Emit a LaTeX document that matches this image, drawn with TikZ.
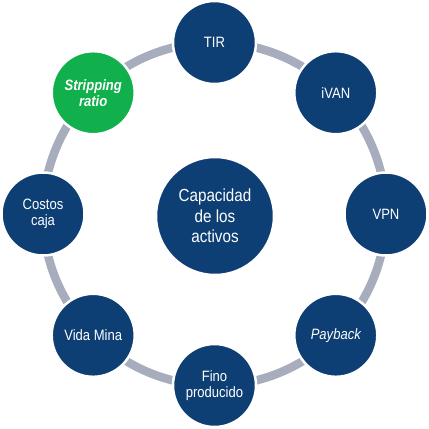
\documentclass[tikz,border=0pt]{standalone}
\usepackage{fontspec}
\setmainfont[FakeStretch=0.87]{Liberation Sans}
\definecolor{navy}{HTML}{0E3F74}
\definecolor{leaf}{HTML}{12B04C}
\definecolor{ringgray}{HTML}{A8ADBD}
\begin{document}
\begin{tikzpicture}[x=1pt,y=-1pt,
  item/.style={circle, fill=navy, draw=white, line width=2.5pt,
    minimum size=83pt, inner sep=0pt, text=white, align=center,
    font=\fontsize{15}{16}\selectfont},
  hub/.style={item, minimum size=118pt, font=\fontsize{17.5}{20.5}\selectfont},
  ringline/.style={draw=ringgray, line width=8.5pt}]
\useasboundingbox (0,0) rectangle (429,429);
\coordinate (o) at (214.5,214);
% ring joining the outer circles
\draw[ringline] (o) circle (171.5);
% centre
\node[hub] (cap) at (215,216) {Capacidad\\de los\\activos};
% outer circles, clockwise from the top
\node[item] (tir)   at (214.5,42.5)  {TIR};
\node[item] (ivan)  at (335.8,92.7)  {iVAN};
\node[item] (vpn)   at (386,214)     {VPN};
\node[item] (pay)   at (335.8,335.3) {\itshape Payback};
\node[item] (fino)  at (214.5,385.5) {Fino\\producido};
\node[item] (vida)  at (93.2,335.3)  {Vida Mina};
\node[item] (costo) at (43,214)      {Costos\\caja};
\node[item, fill=leaf] (strip) at (93.2,92.7) {\bfseries\itshape Stripping\\\bfseries\itshape ratio};
\end{tikzpicture}
\end{document}
